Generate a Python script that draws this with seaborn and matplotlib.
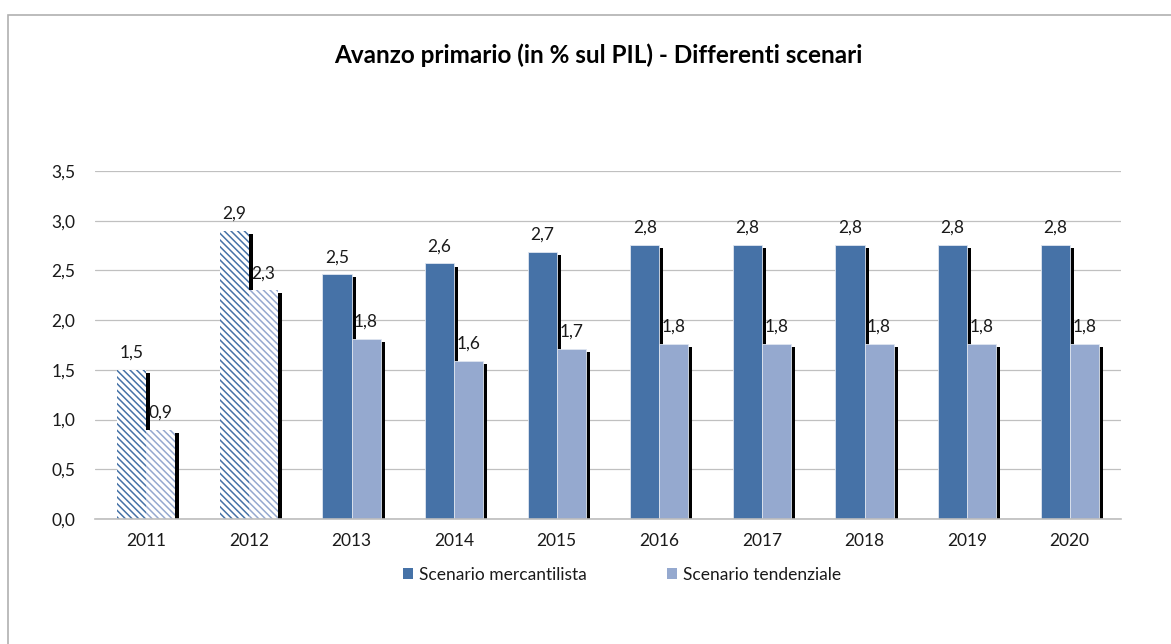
import numpy as np
import pandas as pd
import matplotlib
matplotlib.use("Agg")
import matplotlib.pyplot as plt
import matplotlib.patheffects as pe
from matplotlib.patches import Patch, Rectangle
from matplotlib.ticker import FuncFormatter
import seaborn as sns

# ---- data ----
years = ["2011", "2012", "2013", "2014", "2015", "2016", "2017", "2018", "2019", "2020"]
mercantilista = [1.50, 2.90, 2.46, 2.57, 2.69, 2.76, 2.76, 2.76, 2.76, 2.76]
tendenziale = [0.90, 2.30, 1.81, 1.59, 1.71, 1.76, 1.76, 1.76, 1.76, 1.76]
series_names = ["Scenario mercantilista", "Scenario tendenziale"]
hatched_years = ["2011", "2012"]
y_ticks = [0.0, 0.5, 1.0, 1.5, 2.0, 2.5, 3.0, 3.5]
title = "Avanzo primario (in % sul PIL) - Differenti scenari"

colors = ["#4672A7", "#95A9CF"]

sns.set_style("white")
plt.rcParams["font.family"] = ["Lato", "DejaVu Sans"]
plt.rcParams["hatch.linewidth"] = 1.1
text_color = "#1a1a1a"
fs = 12.5

df = pd.DataFrame({
    "Anno": years * 2,
    "Valore": mercantilista + tendenziale,
    "Scenario": [series_names[0]] * len(years) + [series_names[1]] * len(years),
})

fig = plt.figure(figsize=(11.71, 6.44), dpi=100)
ax = fig.add_axes([95 / 1171, 1 - 519 / 644, (1121 - 95) / 1171, (519 - 171) / 644])

sns.barplot(data=df, x="Anno", y="Valore", hue="Scenario", order=years,
            hue_order=series_names, palette=colors, width=0.566, saturation=1,
            errorbar=None, legend=False, ax=ax)

shadow = [pe.SimplePatchShadow(offset=(2.9, -2.2), shadow_rgbFace="black",
                               alpha=1.0, hatch=None), pe.Normal()]

for cont, col, vals in zip(ax.containers, colors, [mercantilista, tendenziale]):
    for yr, bar in zip(years, cont.patches):
        if yr in hatched_years:
            bar.set_facecolor("white")
            bar.set_edgecolor(col)
            bar.set_hatch("\\\\\\\\\\")
            bar.set_linewidth(0)
        else:
            bar.set_facecolor(col)
            bar.set_edgecolor("#dfe6f0")
            bar.set_linewidth(0.6)
        bar.set_path_effects(shadow)
    labels = [f"{v:.1f}".replace(".", ",") for v in vals]
    ax.bar_label(cont, labels=labels, padding=6.5, fontsize=fs, color=text_color)

ax.set_xlim(-0.5, len(years) - 0.5)
ax.set_ylim(0, 3.5)
ax.set_yticks(y_ticks)
ax.yaxis.set_major_formatter(FuncFormatter(lambda v, p: f"{v:.1f}".replace(".", ",")))
ax.set_xlabel("")
ax.set_ylabel("")
ax.set_axisbelow(True)
ax.yaxis.grid(True, color="#c0c0c0", linewidth=0.9)
ax.xaxis.grid(False)
for s in ["left", "top", "right"]:
    ax.spines[s].set_visible(False)
ax.spines["bottom"].set_color("#bdbdbd")
ax.spines["bottom"].set_linewidth(1.2)
ax.tick_params(axis="x", length=0, pad=10, labelsize=fs, labelcolor=text_color)
ax.tick_params(axis="y", length=0, pad=14, labelsize=fs, labelcolor=text_color)

fig.text(598 / 1171, 1 - 55 / 644, title, ha="center", va="center",
         fontsize=17.5, fontweight="bold", color="black")

handles = [Patch(facecolor=c, edgecolor="none") for c in colors]
fig.legend(handles, series_names, loc="center", bbox_to_anchor=(622 / 1171, 1 - 575 / 644),
           ncol=2, frameon=False, fontsize=fs, handlelength=0.6, handleheight=0.6,
           handletextpad=0.35, columnspacing=4.6, labelcolor=text_color)

# outer chart frame
fig.add_artist(Rectangle((8 / 1171, -0.1), 1.2, 1.1 - 15 / 644, transform=fig.transFigure,
                         facecolor="none", edgecolor="#b0b0b0", linewidth=1.2))

fig.savefig("out.png", dpi=100)
